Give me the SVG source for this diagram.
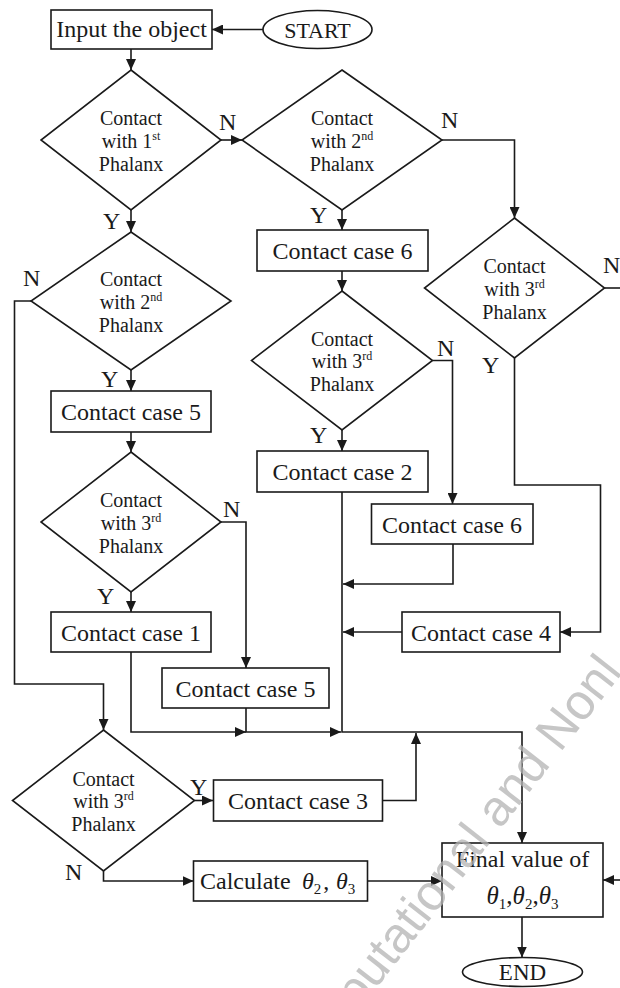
<svg xmlns="http://www.w3.org/2000/svg" width="620" height="988" viewBox="0 0 620 988">
<style>
.shape{fill:#fff;stroke:#1a1a1a;stroke-width:1.6}
.con{fill:none;stroke:#1a1a1a;stroke-width:1.6}
.t{font-family:"Liberation Serif","Times New Roman",serif;fill:#1a1a1a}
.box{font-size:24px;text-anchor:middle}
.dia{font-size:20px;text-anchor:middle}
.lbl{font-size:24px}
.wm{font-family:"Liberation Sans",Arial,sans-serif;font-size:50px;fill:#b4b4b4;opacity:0.75}
</style>
<defs>
<marker id="ah" markerUnits="userSpaceOnUse" markerWidth="11" markerHeight="10" refX="11" refY="5" orient="auto">
<path d="M0,0 L11,5 L0,10 z" fill="#1a1a1a"/>
</marker>
</defs>
<rect width="620" height="988" fill="#fff"/>

<g id="connectors" class="con" marker-end="url(#ah)">
<path d="M263,29.5 H212"/>
<path d="M131,49 V70"/>
<path d="M221,140 H242"/>
<path d="M442,140 H514.5 V218"/>
<path d="M131,210 V232"/>
<path d="M342,210 V230"/>
<path d="M342,271 V291"/>
<path d="M31,301 H14.5 V684 H103.5 V730"/>
<path d="M131,370 V391"/>
<path d="M131,432 V452"/>
<path d="M221,522 H246 V668"/>
<path d="M131,592 V612"/>
<path d="M131,652 V732 H246"/>
<path d="M246,708 V732 H341"/>
<path d="M342,492 V732 H522 V843"/>
<path d="M432.5,360.5 H452.5 V504"/>
<path d="M342,430 V451"/>
<path d="M453,544 V584 H343"/>
<path d="M514.5,358 V485 H600.5 V632 H560"/>
<path d="M402,632 H343"/>
<path d="M604.5,288 H621" marker-end="none"/>
<path d="M194.5,800.5 H213"/>
<path d="M103.5,870.5 V881 H193.5"/>
<path d="M382.5,800.5 H416 V733"/>
<path d="M367.5,881 H442"/>
<path d="M621,880 H603"/>
<path d="M522,917 V957.5"/>
</g>

<g id="start"><ellipse class="shape" cx="317.5" cy="29.5" rx="54.5" ry="19"/><text class="t" x="317.5" y="37.5" font-size="22" text-anchor="middle">START</text></g>
<g id="input"><rect class="shape" x="51" y="10" width="161" height="39"/><text class="t box" x="131.5" y="37">Input the object</text></g>

<g id="d1"><polygon class="shape" points="131,70 221,140 131,210 41,140"/><text class="t dia" x="131" y="125">Contact</text><text class="t dia" x="131" y="147.5">with 1<tspan font-size="12" dy="-8">st</tspan></text><text class="t dia" x="131" y="170.5">Phalanx</text></g>
<g id="d2"><polygon class="shape" points="342,70 442,140 342,210 242,140"/><text class="t dia" x="342" y="125">Contact</text><text class="t dia" x="342" y="147.5">with 2<tspan font-size="12" dy="-8">nd</tspan></text><text class="t dia" x="342" y="170.5">Phalanx</text></g>
<g id="d3"><polygon class="shape" points="131,232 231,301 131,370 31,301"/><text class="t dia" x="131" y="286">Contact</text><text class="t dia" x="131" y="308.5">with 2<tspan font-size="12" dy="-8">nd</tspan></text><text class="t dia" x="131" y="331.5">Phalanx</text></g>
<g id="d4"><polygon class="shape" points="514.5,218 604.5,288 514.5,358 424.5,288"/><text class="t dia" x="514.5" y="273">Contact</text><text class="t dia" x="514.5" y="295.5">with 3<tspan font-size="12" dy="-8">rd</tspan></text><text class="t dia" x="514.5" y="318.5">Phalanx</text></g>
<g id="d5"><polygon class="shape" points="342,291 432.5,360.5 342,430 251.5,360.5"/><text class="t dia" x="342" y="345.5">Contact</text><text class="t dia" x="342" y="368">with 3<tspan font-size="12" dy="-8">rd</tspan></text><text class="t dia" x="342" y="391">Phalanx</text></g>
<g id="d6"><polygon class="shape" points="131,452 221,522 131,592 41,522"/><text class="t dia" x="131" y="507">Contact</text><text class="t dia" x="131" y="529.5">with 3<tspan font-size="12" dy="-8">rd</tspan></text><text class="t dia" x="131" y="552.5">Phalanx</text></g>
<g id="d7"><polygon class="shape" points="103.5,730 194.5,800.5 103.5,871 12.5,800.5"/><text class="t dia" x="103.5" y="785.5">Contact</text><text class="t dia" x="103.5" y="808">with 3<tspan font-size="12" dy="-8">rd</tspan></text><text class="t dia" x="103.5" y="831">Phalanx</text></g>

<g id="cc6a"><rect class="shape" x="257" y="230" width="171" height="41"/><text class="t box" x="342.5" y="259">Contact case 6</text></g>
<g id="cc5a"><rect class="shape" x="51" y="391" width="160" height="41"/><text class="t box" x="131" y="420">Contact case 5</text></g>
<g id="cc2"><rect class="shape" x="257" y="451" width="171" height="41"/><text class="t box" x="342.5" y="480">Contact case 2</text></g>
<g id="cc6b"><rect class="shape" x="371.5" y="504" width="161.5" height="40"/><text class="t box" x="452" y="532.5">Contact case 6</text></g>
<g id="cc1"><rect class="shape" x="51" y="612" width="160" height="40"/><text class="t box" x="131" y="640.5">Contact case 1</text></g>
<g id="cc4"><rect class="shape" x="402" y="612" width="158" height="40"/><text class="t box" x="481" y="640.5">Contact case 4</text></g>
<g id="cc5b"><rect class="shape" x="162" y="668" width="167" height="40"/><text class="t box" x="245.5" y="696.5">Contact case 5</text></g>
<g id="cc3"><rect class="shape" x="213.5" y="780" width="169" height="41"/><text class="t box" x="298" y="809">Contact case 3</text></g>
<g id="calc"><rect class="shape" x="193.5" y="861" width="174" height="40"/><text class="t" x="200" y="889" font-size="24">Calculate</text><text class="t" x="302" y="889" font-size="24"><tspan font-style="italic">θ</tspan><tspan font-size="15" dy="5">2</tspan><tspan dy="-5" dx="2">,</tspan><tspan x="336" font-style="italic">θ</tspan><tspan font-size="15" dy="5">3</tspan></text></g>
<g id="final"><rect class="shape" x="442" y="843" width="161" height="74"/><text class="t box" x="522.5" y="867">Final value of</text><text class="t" x="522.5" y="904" font-size="25" text-anchor="middle"><tspan font-style="italic">θ</tspan><tspan font-size="15" dy="5">1</tspan><tspan dy="-5">,</tspan><tspan font-style="italic">θ</tspan><tspan font-size="15" dy="5">2</tspan><tspan dy="-5">,</tspan><tspan font-style="italic">θ</tspan><tspan font-size="15" dy="5">3</tspan></text></g>
<g id="end"><ellipse class="shape" cx="522.5" cy="972" rx="60" ry="14.5"/><text class="t" x="522.5" y="980" font-size="23" text-anchor="middle">END</text></g>

<g id="labels" class="t lbl">
<text x="219" y="130">N</text>
<text x="441" y="128">N</text>
<text x="103" y="229">Y</text>
<text x="310" y="223">Y</text>
<text x="23" y="286">N</text>
<text x="101" y="387">Y</text>
<text x="603" y="273">N</text>
<text x="482" y="373">Y</text>
<text x="437" y="356">N</text>
<text x="310" y="443">Y</text>
<text x="223" y="517">N</text>
<text x="97" y="604">Y</text>
<text x="190" y="795">Y</text>
<text x="65" y="880">N</text>
</g>

<text class="wm" transform="translate(293,1095) rotate(-52)">Computational and Nonl</text>
</svg>
